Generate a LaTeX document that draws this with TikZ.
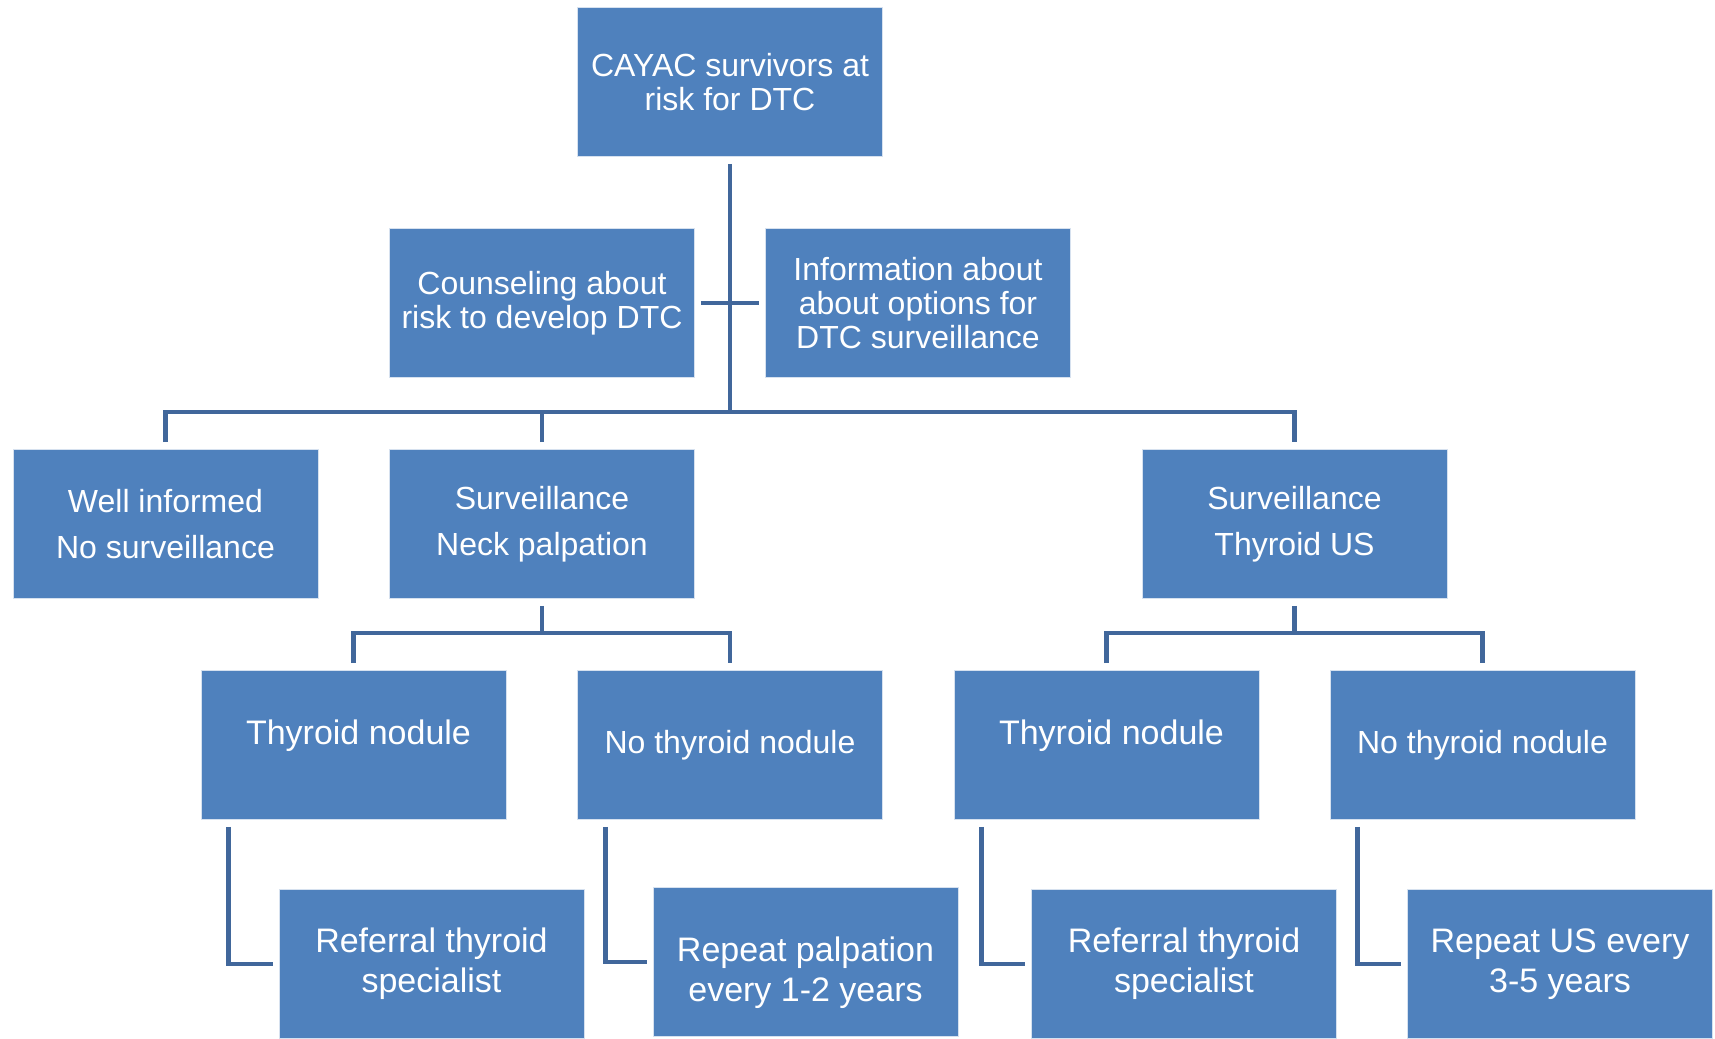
\documentclass[tikz,border=0pt]{standalone}
\usepackage{fontspec}
\setmainfont{Liberation Sans}
\usetikzlibrary{calc}
\definecolor{boxblue}{RGB}{79,129,189}
\definecolor{boxedge}{RGB}{214,225,239}
\definecolor{lineblue}{RGB}{65,103,155}
\newcommand\bigtxt[0]{\fontsize{17pt}{20pt}\selectfont}
\newcommand\lift[2]{\raisebox{#1}[\height][\depth]{#2}}

\begin{document}
\begin{tikzpicture}[x=0.5pt, y=-0.5pt,
  box/.style={fill=boxblue, draw=boxedge, line width=0.4pt, minimum width=152.5pt, minimum height=74.5pt,
    inner sep=2pt, align=center, text=white, font=\fontsize{16pt}{17pt}\selectfont},
  link/.style={lineblue, line width=2.4pt}]

\useasboundingbox (0,0) rectangle (1715,1039);

\node[box] (top) at (730,82) {CAYAC survivors at\\risk for DTC};
\node[box] (counsel) at (542,303) {Counseling about\\risk to develop DTC};
\node[box] (info) at (918,303) {Information about\\about options for\\DTC surveillance};

\node[box] (well) at (165.5,524) {Well informed\\[6pt]No surveillance};
\node[box] (neck) at (542,524) {Surveillance\\[6pt]Neck palpation};
\node[box] (usv) at (1294.5,524) {Surveillance\\[6pt]Thyroid US};

\node[box, font=\bigtxt] (tn1) at (353.5,745) {\hspace{5pt}\lift{4.5pt}{Thyroid nodule}};
\node[box] (nn1) at (730,745) {No thyroid nodule};
\node[box, font=\bigtxt] (tn2) at (1106.5,745) {\hspace{5pt}\lift{4.5pt}{Thyroid nodule}};
\node[box] (nn2) at (1482.5,745) {No thyroid nodule};

\node[box, font=\bigtxt] (ref1) at (431.5,964) {Referral thyroid\\specialist};
\node[box, font=\bigtxt] (rep1) at (805.5,962)
  {\lift{-5.5pt}{\begin{tabular}{@{}c@{}}Repeat palpation\\every 1-2 years\end{tabular}}};
\node[box, font=\bigtxt] (ref2) at (1184,964) {Referral thyroid\\specialist};
\node[box, font=\bigtxt] (rep2) at (1560,964) {Repeat US every\\3-5 years};

% main trunk and bus
\coordinate (bus) at (730,412);
\draw[link] ([yshift=-3.5pt]top.south) -- (bus);
\draw[link] ([xshift=3pt]counsel.east) -- ([xshift=-3pt]info.west);
\draw[link] ([yshift=3.5pt]well.north) |- (bus) -| ([yshift=3.5pt]usv.north);
\draw[link] ([yshift=3.5pt]neck.north) -- (neck.north |- bus);

% palpation branch
\coordinate (nbus) at (542,633);
\draw[link] ([yshift=-3.5pt]neck.south) -- (nbus);
\draw[link] ([yshift=3.5pt]tn1.north) |- (nbus) -| ([yshift=3.5pt]nn1.north);

% ultrasound branch
\coordinate (ubus) at (1294.5,633);
\draw[link] ([yshift=-3.5pt]usv.south) -- (ubus);
\draw[link] ([yshift=3.5pt]tn2.north) |- (ubus) -| ([yshift=3.5pt]nn2.north);

% follow-up elbows
\draw[link] ([xshift=14pt,yshift=-3.5pt]tn1.south west) |- ([xshift=-3pt]ref1.west);
\draw[link] ([xshift=14pt,yshift=-3.5pt]nn1.south west) |- ([xshift=-3pt]rep1.west);
\draw[link] ([xshift=14pt,yshift=-3.5pt]tn2.south west) |- ([xshift=-3pt]ref2.west);
\draw[link] ([xshift=14pt,yshift=-3.5pt]nn2.south west) |- ([xshift=-3pt]rep2.west);

\end{tikzpicture}
\end{document}
